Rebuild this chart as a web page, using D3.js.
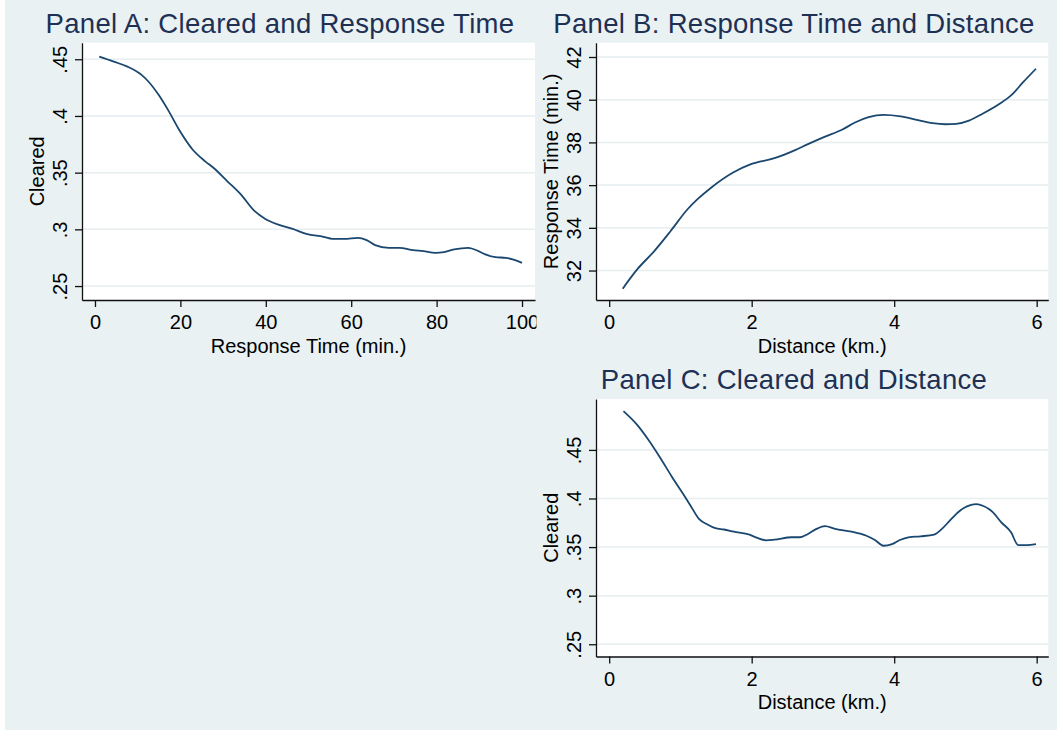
<!DOCTYPE html>
<html>
<head>
<meta charset="utf-8">
<script src="https://cdn.jsdelivr.net/npm/d3@7"></script>
<style>
  body { margin: 0; background: #fff; }
  svg { display: block; font-family: "Liberation Sans", Arial, Helvetica, sans-serif; }
</style>
</head>
<body>
<svg width="1057" height="731"></svg>
<script>
//////// DATA ////////
// Panel A: share cleared vs. response time (min.)
var respTimeA = [1, 4.4, 7.6, 10.9, 12.5, 14.9, 17.3, 19.7, 22.9, 25.8, 27.8, 31, 34.2, 37.4, 39.9, 43.1, 46.3, 49.5, 53.5, 55.6, 58.4, 61.6, 63.6, 65.6, 68.8, 71.3, 74.5, 76.9, 79.7, 81.7, 84.1, 87.4, 89.8, 91.4, 93.8, 96.2, 97.8, 100];
var clearedA = [.4523, .4479, .4435, .4362, .4304, .4186, .4040, .3878, .3702, .3600, .3541, .3424, .3306, .3160, .3092, .3040, .3004, .2960, .2934, .2916, .2916, .2925, .2905, .2861, .2837, .2837, .2817, .2808, .2793, .2799, .2823, .2837, .2808, .2779, .2755, .2749, .2735, .2705];

// Panel B: response time (min.) vs. distance (km.)
var distB = [0.19, 0.39, 0.63, 0.86, 1.1, 1.24, 1.43, 1.74, 1.99, 2.32, 2.61, 2.79, 3.03, 3.26, 3.45, 3.64, 3.85, 4.09, 4.3, 4.54, 4.72, 4.87, 5.05, 5.24, 5.48, 5.64, 5.81, 5.99];
var respTimeB = [31.15, 32.04, 32.9, 33.84, 34.87, 35.34, 35.88, 36.59, 36.98, 37.26, 37.64, 37.92, 38.27, 38.58, 38.93, 39.18, 39.29, 39.22, 39.07, 38.9, 38.85, 38.87, 39.02, 39.34, 39.81, 40.2, 40.82, 41.45];

// Panel C: share cleared vs. distance (km.)
var distC = [0.2, 0.39, 0.55, 0.72, 0.88, 1.05, 1.14, 1.26, 1.38, 1.49, 1.61, 1.75, 1.97, 2.08, 2.2, 2.32, 2.56, 2.68, 2.79, 2.91, 3.03, 3.17, 3.4, 3.61, 3.73, 3.85, 3.97, 4.08, 4.2, 4.37, 4.56, 4.67, 4.79, 4.91, 5.03, 5.15, 5.26, 5.38, 5.5, 5.64, 5.74, 5.86, 5.99];
var clearedC = [.4899, .476, .4604, .4414, .4224, .4033, .3929, .3791, .3732, .3694, .3681, .3659, .3628, .3594, .357, .3577, .3601, .3601, .3635, .3687, .3715, .3687, .3659, .3617, .3573, .3514, .3531, .3573, .3601, .3611, .3628, .3687, .378, .3867, .3922, .3943, .392, .3862, .3757, .3653, .3521, .3521, .3531];

var clearedTicks = [.25, .3, .35, .4, .45];
var respTicks = [32, 34, 36, 38, 40, 42];
var respTimeTicks = [0, 20, 40, 60, 80, 100];
var distTicks = [0, 2, 4, 6];

//////// STYLE ////////
var bgColor = "#e9f1f3",
  gridColor = "#e6eef0",
  lineColor = "#1a476f",
  titleColor = "#1e3054";

var svg = d3.select("svg");

svg.append("rect")
  .attr("x", 5).attr("y", 0)
  .attr("width", 1052).attr("height", 730)
  .attr("fill", bgColor);

// Stata style numbers: .45 instead of 0.45
function stataFmt(d) {
  return String(d).replace(/^0\./, ".");
}

var panels = [
  {
    id: "A", title: "Panel A: Cleared and Response Time", titleX: 280, titleY: 33,
    left: 82, right: 535, top: 42.7, bottom: 300, clipRight: 536.5,
    xDomain: [-3.04, 103.04], yDomain: [.2377, .4646],
    xTicks: respTimeTicks, yTicks: clearedTicks,
    xs: respTimeA, ys: clearedA,
    xLabel: "Response Time (min.)", yLabel: "Cleared"
  },
  {
    id: "B", title: "Panel B: Response Time and Distance", titleX: 794, titleY: 33,
    left: 596, right: 1048.3, top: 42.7, bottom: 300,
    xDomain: [-0.185, 6.163], yDomain: [30.62, 42.67],
    xTicks: distTicks, yTicks: respTicks,
    xs: distB, ys: respTimeB,
    xLabel: "Distance (km.)", yLabel: "Response Time (min.)"
  },
  {
    id: "C", title: "Panel C: Cleared and Distance", titleX: 794, titleY: 389,
    left: 596, right: 1048.3, top: 399, bottom: 656.5,
    xDomain: [-0.185, 6.163], yDomain: [.2374, .5024],
    xTicks: distTicks, yTicks: clearedTicks,
    xs: distC, ys: clearedC,
    xLabel: "Distance (km.)", yLabel: "Cleared"
  }
];

panels.forEach(drawPanel);

function drawPanel(p) {
  var g = svg.append("g").attr("class", "panel-" + p.id);

  if (p.clipRight) {
    svg.append("clipPath").attr("id", "clip" + p.id)
      .append("rect").attr("x", 0).attr("y", 0)
      .attr("width", p.clipRight).attr("height", 731);
    g.attr("clip-path", "url(#clip" + p.id + ")");
  }

  var x = d3.scaleLinear().domain(p.xDomain).range([p.left, p.right]);
  var y = d3.scaleLinear().domain(p.yDomain).range([p.bottom, p.top]);

  // plot region
  g.append("rect")
    .attr("x", p.left).attr("y", p.top)
    .attr("width", p.right - p.left).attr("height", p.bottom - p.top)
    .attr("fill", "#fff");

  // gridlines
  g.append("g").selectAll("line")
    .data(p.yTicks)
    .enter().append("line")
    .attr("x1", p.left).attr("x2", p.right)
    .attr("y1", function (d) { return y(d); })
    .attr("y2", function (d) { return y(d); })
    .attr("stroke", gridColor)
    .attr("stroke-width", 1.5);

  // curve
  var pts = p.xs.map(function (v, i) { return [v, p.ys[i]]; });
  g.append("path")
    .datum(pts)
    .attr("fill", "none")
    .attr("stroke", lineColor)
    .attr("stroke-width", 1.8)
    .attr("stroke-linejoin", "round")
    .attr("d", d3.line()
      .x(function (d) { return x(d[0]); })
      .y(function (d) { return y(d[1]); })
      .curve(d3.curveMonotoneX));

  // x axis
  var xAxis = g.append("g")
    .attr("transform", "translate(0," + p.bottom + ")")
    .call(d3.axisBottom(x).tickValues(p.xTicks).tickSize(7).tickSizeOuter(0)
      .tickFormat(d3.format("d")));
  styleAxis(xAxis);
  xAxis.selectAll("text").attr("dy", null).attr("y", 29);

  // y axis, labels turned like Stata
  var yAxis = g.append("g")
    .attr("transform", "translate(" + p.left + ",0)")
    .call(d3.axisLeft(y).tickValues(p.yTicks).tickSize(7).tickSizeOuter(0)
      .tickFormat(stataFmt));
  styleAxis(yAxis);
  yAxis.selectAll("text")
    .attr("x", 0).attr("y", -15).attr("dy", null)
    .attr("text-anchor", "middle")
    .attr("transform", "rotate(-90)");

  // axis titles
  g.append("text")
    .attr("x", (p.left + p.right) / 2).attr("y", p.bottom + 52.5)
    .attr("text-anchor", "middle")
    .attr("font-size", 20)
    .attr("fill", "#000")
    .text(p.xLabel);

  g.append("text")
    .attr("transform", "translate(" + (p.left - 38) + "," + ((p.top + p.bottom) / 2) + ") rotate(-90)")
    .attr("text-anchor", "middle")
    .attr("font-size", 20)
    .attr("fill", "#000")
    .text(p.yLabel);

  // panel title
  g.append("text")
    .attr("x", p.titleX).attr("y", p.titleY)
    .attr("text-anchor", "middle")
    .attr("font-size", 27.5).attr("letter-spacing", 0.3)
    .attr("fill", titleColor)
    .text(p.title);
}

function styleAxis(a) {
  a.select(".domain").attr("stroke", "#111").attr("stroke-width", 1.3);
  a.selectAll(".tick line").attr("stroke", "#111").attr("stroke-width", 1.3);
  a.selectAll(".tick text")
    .attr("fill", "#000")
    .attr("font-size", 20)
    .attr("font-family", "'Liberation Sans', Arial, Helvetica, sans-serif");
}
</script>
</body>
</html>
